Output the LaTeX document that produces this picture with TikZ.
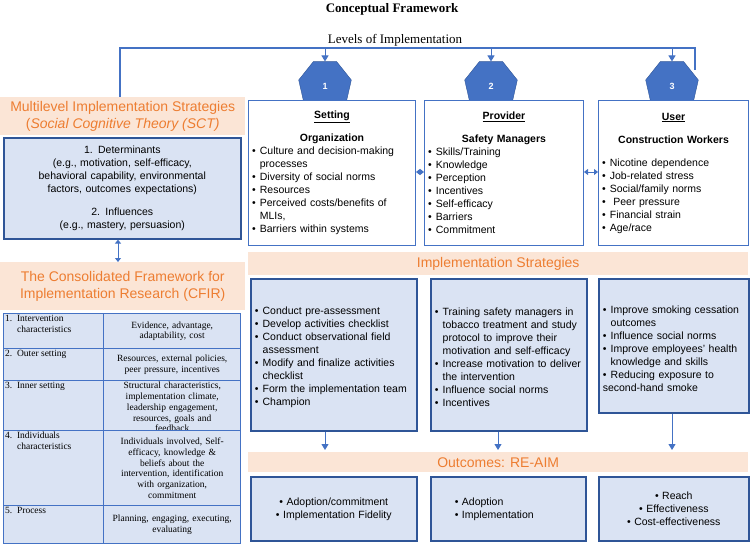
\documentclass[tikz,border=0pt]{standalone}
\usepackage{fontspec}
\setmainfont{Liberation Serif}
\setsansfont{Liberation Sans}
\usepackage{tikz}
\usetikzlibrary{positioning,arrows.meta,shapes.geometric,calc}
\definecolor{FrameBlue}{RGB}{68,114,196}
\definecolor{DarkBlue}{RGB}{47,85,151}
\definecolor{BoxFill}{RGB}{218,227,243}
\definecolor{BandFill}{RGB}{251,229,214}
\definecolor{BandText}{RGB}{237,125,49}
\newcommand{\bli}{\par\hangindent=0.75em\hangafter=1\noindent\makebox[0.75em][l]{\textbullet}}
\newcommand{\lhead}[2]{{\centering\underline{\textbf{#1}}\par\textbf{#2}\par}\raggedright\hyphenpenalty=10000}
\tikzset{
  % level box (white)
  lbox/.style={draw=FrameBlue, line width=1pt, fill=white, anchor=north west,
    inner sep=3pt, font=\sffamily\fontsize{10.5}{13}\selectfont, align=left},
  % strategy box (blue)
  sbox/.style={draw=DarkBlue, line width=1.6pt, fill=BoxFill, anchor=north west,
    inner sep=3pt, font=\sffamily\fontsize{10.5}{13}\selectfont, align=left},
  % orange band
  band/.style={fill=BandFill, inner sep=0pt, text=BandText, anchor=north west,
    font=\sffamily\fontsize{14}{17}\selectfont, align=center},
  % level marker
  hept/.style={regular polygon, regular polygon sides=7, shape border rotate=180, fill=FrameBlue, draw=DarkBlue,
    minimum size=54pt, inner sep=0pt, text=white, font=\sffamily\bfseries\small},
  % table cell
  cell/.style={draw=FrameBlue, line width=1.4pt, fill=BoxFill, anchor=north west,
    inner sep=1.5pt, font=\fontsize{9.5}{10.8}\selectfont},
  link/.style={draw=FrameBlue, line width=1.6pt},
  arr/.style={draw=FrameBlue, line width=1pt, -{Triangle[length=6pt,width=7pt]}},
  darr/.style={draw=FrameBlue, line width=1pt, {Triangle[length=4pt,width=6pt]}-{Triangle[length=4pt,width=6pt]}}
}
\begin{document}
\begin{tikzpicture}[x=1pt,y=-1pt]
\useasboundingbox (0,0) rectangle (750,546);
\node[font=\bfseries\fontsize{13}{15}\selectfont] (title) at (392,9) {Conceptual Framework};
\node[font=\fontsize{13}{15}\selectfont] (lvl) at (395,40) {Levels of Implementation};

% level markers
\node[hept] (h1) at (325,86) {1};
\node[hept] (h2) at (491,86) {2};
\node[hept] (h3) at (672,86) {3};
\coordinate (top) at (120,48);
\coordinate (tr) at (695,48);
\draw[link] (120,97) -- (top) -- (tr) -- (695,70);
\foreach \h in {h1,h2,h3}
  \draw[arr] (\h.north |- top) -- (\h.north);

% level boxes
\node[lbox, minimum width=167pt, minimum height=145pt, text width=160pt] (set) at (248,100)
  {\vspace*{10pt}\lhead{Setting}{Organization}
   \bli Culture and decision-making processes
   \bli Diversity of social norms
   \bli Resources
   \bli Perceived costs/benefits of MLIs,
   \bli Barriers within systems};
\node[lbox, minimum width=159pt, minimum height=145pt, text width=152pt] (prov) at (424,100)
  {\vspace*{10pt}\lhead{Provider}{Safety Managers}
   \bli Skills/Training
   \bli Knowledge
   \bli Perception
   \bli Incentives
   \bli Self-efficacy
   \bli Barriers
   \bli Commitment};
\node[lbox, minimum width=150pt, minimum height=145pt, text width=143pt] (user) at (598,100)
  {\vspace*{10pt}\lhead{User}{Construction Workers}\vspace{10pt}
   \bli Nicotine dependence
   \bli Job-related stress
   \bli Social/family norms
   \bli ~Peer pressure
   \bli Financial strain
   \bli Age/race};
\draw[darr] (set.east |- 0,172) -- (prov.west |- 0,172);
\draw[darr] (prov.east |- 0,172) -- (user.west |- 0,172);

% left column
\node[band, minimum width=245pt, minimum height=38pt] (mis) at (0,97)
  {Multilevel Implementation Strategies\\(\textit{Social Cognitive Theory (SCT)}};
\node[sbox, minimum width=237pt, minimum height=101pt, text width=230pt, align=center] (det) at (3,137)
  {1. Determinants\\(e.g., motivation, self-efficacy,\\behavioral capability, environmental\\factors, outcomes expectations)\\[10pt]2. Influences\\(e.g., mastery, persuasion)};
\node[band, minimum width=245pt, minimum height=48pt] (cfir) at (0,262)
  {The Consolidated Framework for\\Implementation Research (CFIR)};
\draw[darr] (det.south -| 118,0) -- (cfir.north -| 118,0);

% CFIR table
\foreach \i/\y/\h/\a/\b in {
  1/313/35/{1.\ \ Intervention\\\phantom{1.\ \ }characteristics}/{Evidence, advantage,\\adaptability, cost},
  2/348/32/{2.\ \ Outer setting}/{Resources, external policies,\\peer pressure, incentives},
  3/380/50/{3.\ \ Inner setting}/{Structural characteristics,\\implementation climate,\\leadership engagement,\\resources, goals and\\feedback},
  4/430/75/{4.\ \ Individuals\\\phantom{4.\ \ }characteristics}/{Individuals involved, Self-\\efficacy, knowledge \&\\beliefs about the\\intervention, identification\\with organization,\\commitment},
  5/505/38/{5.\ \ Process}/{Planning, engaging, executing,\\evaluating}} {
  \node[cell, minimum width=100pt, minimum height=\h pt, anchor=north west] (ca\i) at (3,\y) {};
  \node[font=\fontsize{9.5}{10.8}\selectfont, align=left, anchor=north west, inner sep=2pt] at (ca\i.north west) {\a};
  \node[cell, minimum width=137pt, minimum height=\h pt, align=center, text width=134pt] (cb\i) at (103,\y) {\b};
}

% implementation strategies
\node[band, minimum width=500pt, minimum height=23pt] (imp) at (248,252) {Implementation Strategies};
\node[sbox, minimum width=166pt, minimum height=152pt, text width=158pt, anchor=north west] (s1) at (250,278)
  {\raggedright\hyphenpenalty=10000
   \bli Conduct pre-assessment
   \bli Develop activities checklist
   \bli Conduct observational field assessment
   \bli Modify and finalize activities checklist
   \bli Form the implementation team
   \bli Champion};
\node[sbox, minimum width=156pt, minimum height=152pt, text width=148pt] (s2) at (430,278)
  {\raggedright\hyphenpenalty=10000
   \bli Training safety managers in tobacco treatment and study protocol to improve their motivation and self-efficacy
   \bli Increase motivation to deliver the intervention
   \bli Influence social norms
   \bli Incentives};
\node[sbox, minimum width=150pt, minimum height=134pt, text width=142pt] (s3) at (598,278)
  {\raggedright\hyphenpenalty=10000
   \bli Improve smoking cessation outcomes
   \bli Influence social norms
   \bli Improve employees' health knowledge and skills
   \bli Reducing exposure to second-hand smoke};

% outcomes
\node[band, minimum width=500pt, minimum height=20pt] (out) at (248,452) {Outcomes: RE-AIM};
\foreach \s/\x in {s1/325,s2/498,s3/672}
  \draw[arr] (\s.south -| \x,0) -- (\x,450);
\node[sbox, minimum width=166pt, minimum height=64pt, text width=158pt, align=center] (o1) at (250,476)
  {\textbullet\ Adoption/commitment\\\textbullet\ Implementation Fidelity};
\node[sbox, minimum width=155pt, minimum height=64pt, text width=147pt] (o2) at (430,476)
  {\hspace*{20pt}\textbullet\ Adoption\\\hspace*{20pt}\textbullet\ Implementation};
\node[sbox, minimum width=150pt, minimum height=64pt, text width=142pt, align=center] (o3) at (598,476)
  {\textbullet\ Reach\\\textbullet\ Effectiveness\\\textbullet\ Cost-effectiveness};
\end{tikzpicture}
\end{document}
